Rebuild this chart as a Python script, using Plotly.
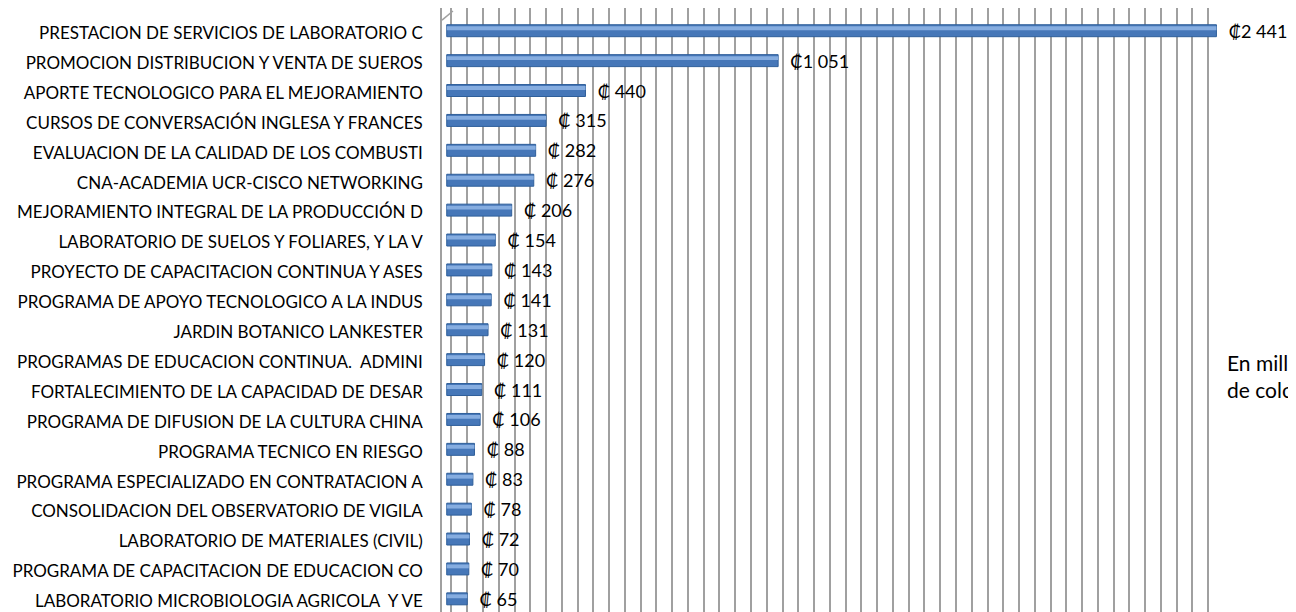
import plotly.graph_objects as go

projects = [
    "PRESTACION DE SERVICIOS DE LABORATORIO C",
    "PROMOCION DISTRIBUCION Y VENTA DE SUEROS",
    "APORTE TECNOLOGICO PARA EL MEJORAMIENTO",
    "CURSOS DE CONVERSACIÓN INGLESA Y FRANCES",
    "EVALUACION DE LA CALIDAD DE LOS COMBUSTI",
    "CNA-ACADEMIA UCR-CISCO NETWORKING",
    "MEJORAMIENTO INTEGRAL DE LA PRODUCCIÓN D",
    "LABORATORIO DE SUELOS Y FOLIARES, Y LA V",
    "PROYECTO DE CAPACITACION CONTINUA Y ASES",
    "PROGRAMA DE APOYO TECNOLOGICO A LA INDUS",
    "JARDIN BOTANICO LANKESTER",
    "PROGRAMAS DE EDUCACION CONTINUA.  ADMINI",
    "FORTALECIMIENTO DE LA CAPACIDAD DE DESAR",
    "PROGRAMA DE DIFUSION DE LA CULTURA CHINA",
    "PROGRAMA TECNICO EN RIESGO",
    "PROGRAMA ESPECIALIZADO EN CONTRATACION A",
    "CONSOLIDACION DEL OBSERVATORIO DE VIGILA",
    "LABORATORIO DE MATERIALES (CIVIL)",
    "PROGRAMA DE CAPACITACION DE EDUCACION CO",
    "LABORATORIO MICROBIOLOGIA AGRICOLA  Y VE",
]
amounts = [2441, 1051, 440, 315, 282, 276, 206, 154, 143, 141,
           131, 120, 111, 106, 88, 83, 78, 72, 70, 65]


def colones(v):
    # Excel style accounting label: pad short numbers after the sign
    if v >= 1000:
        return "₡" + f"{v:,}".replace(",", " ")
    return "₡ " + str(v)


labels = ["  " + colones(v) for v in amounts]

fig = go.Figure()

# main body of the "cylinder"
fig.add_trace(go.Bar(
    y=projects, x=amounts, orientation="h",
    width=0.40, offset=-0.28,
    marker=dict(color="#4677B8", line=dict(color="#2F5F9A", width=1)),
    text=labels, textposition="outside", cliponaxis=False,
    constraintext="none",
    textfont=dict(family="Lato, DejaVu Sans", size=18, color="#000000"),
    hoverinfo="skip",
))
# highlight stripe to fake the 3D shading
fig.add_trace(go.Bar(
    y=projects, x=amounts, orientation="h",
    width=0.13, offset=-0.23,
    marker=dict(color="#86ADE0", line=dict(width=0)),
    hoverinfo="skip",
))

# page body has an 8px margin, so the figure is 8px smaller than the window
fig.update_layout(
    width=1288, height=604,
    margin=dict(l=434, r=72, t=0, b=0),
    barmode="overlay",
    showlegend=False,
    plot_bgcolor="white",
    paper_bgcolor="white",
    font=dict(family="Lato, Liberation Sans, sans-serif", color="#000000"),
    annotations=[dict(
        text="En millones<br>de colones", xref="paper", yref="paper",
        x=1.0, y=0.39, xanchor="left", yanchor="middle", xshift=1,
        showarrow=False, align="left",
        font=dict(family="Lato, DejaVu Sans", size=21, color="#000000"),
    )],
    shapes=[dict(
        type="line", xref="paper", yref="paper",
        x0=0, y0=0.98, x1=0.014, y1=0.995,
        line=dict(color="#A0A0A0", width=1.5),
    )],
)

fig.update_xaxes(
    range=[-15, 2465], tick0=15, dtick=50,
    showgrid=True, gridcolor="#A0A0A0", gridwidth=1.5,
    showticklabels=False, zeroline=False, showline=False,
)
fig.update_yaxes(
    type="category", range=[19.36, -0.84],
    showgrid=False, ticks="", ticklabelstandoff=14,
    showline=True, linecolor="#A0A0A0", linewidth=1.5,
    tickfont=dict(family="Lato, Liberation Sans", size=17, color="#000000"),
)

fig.write_html("out.html")
